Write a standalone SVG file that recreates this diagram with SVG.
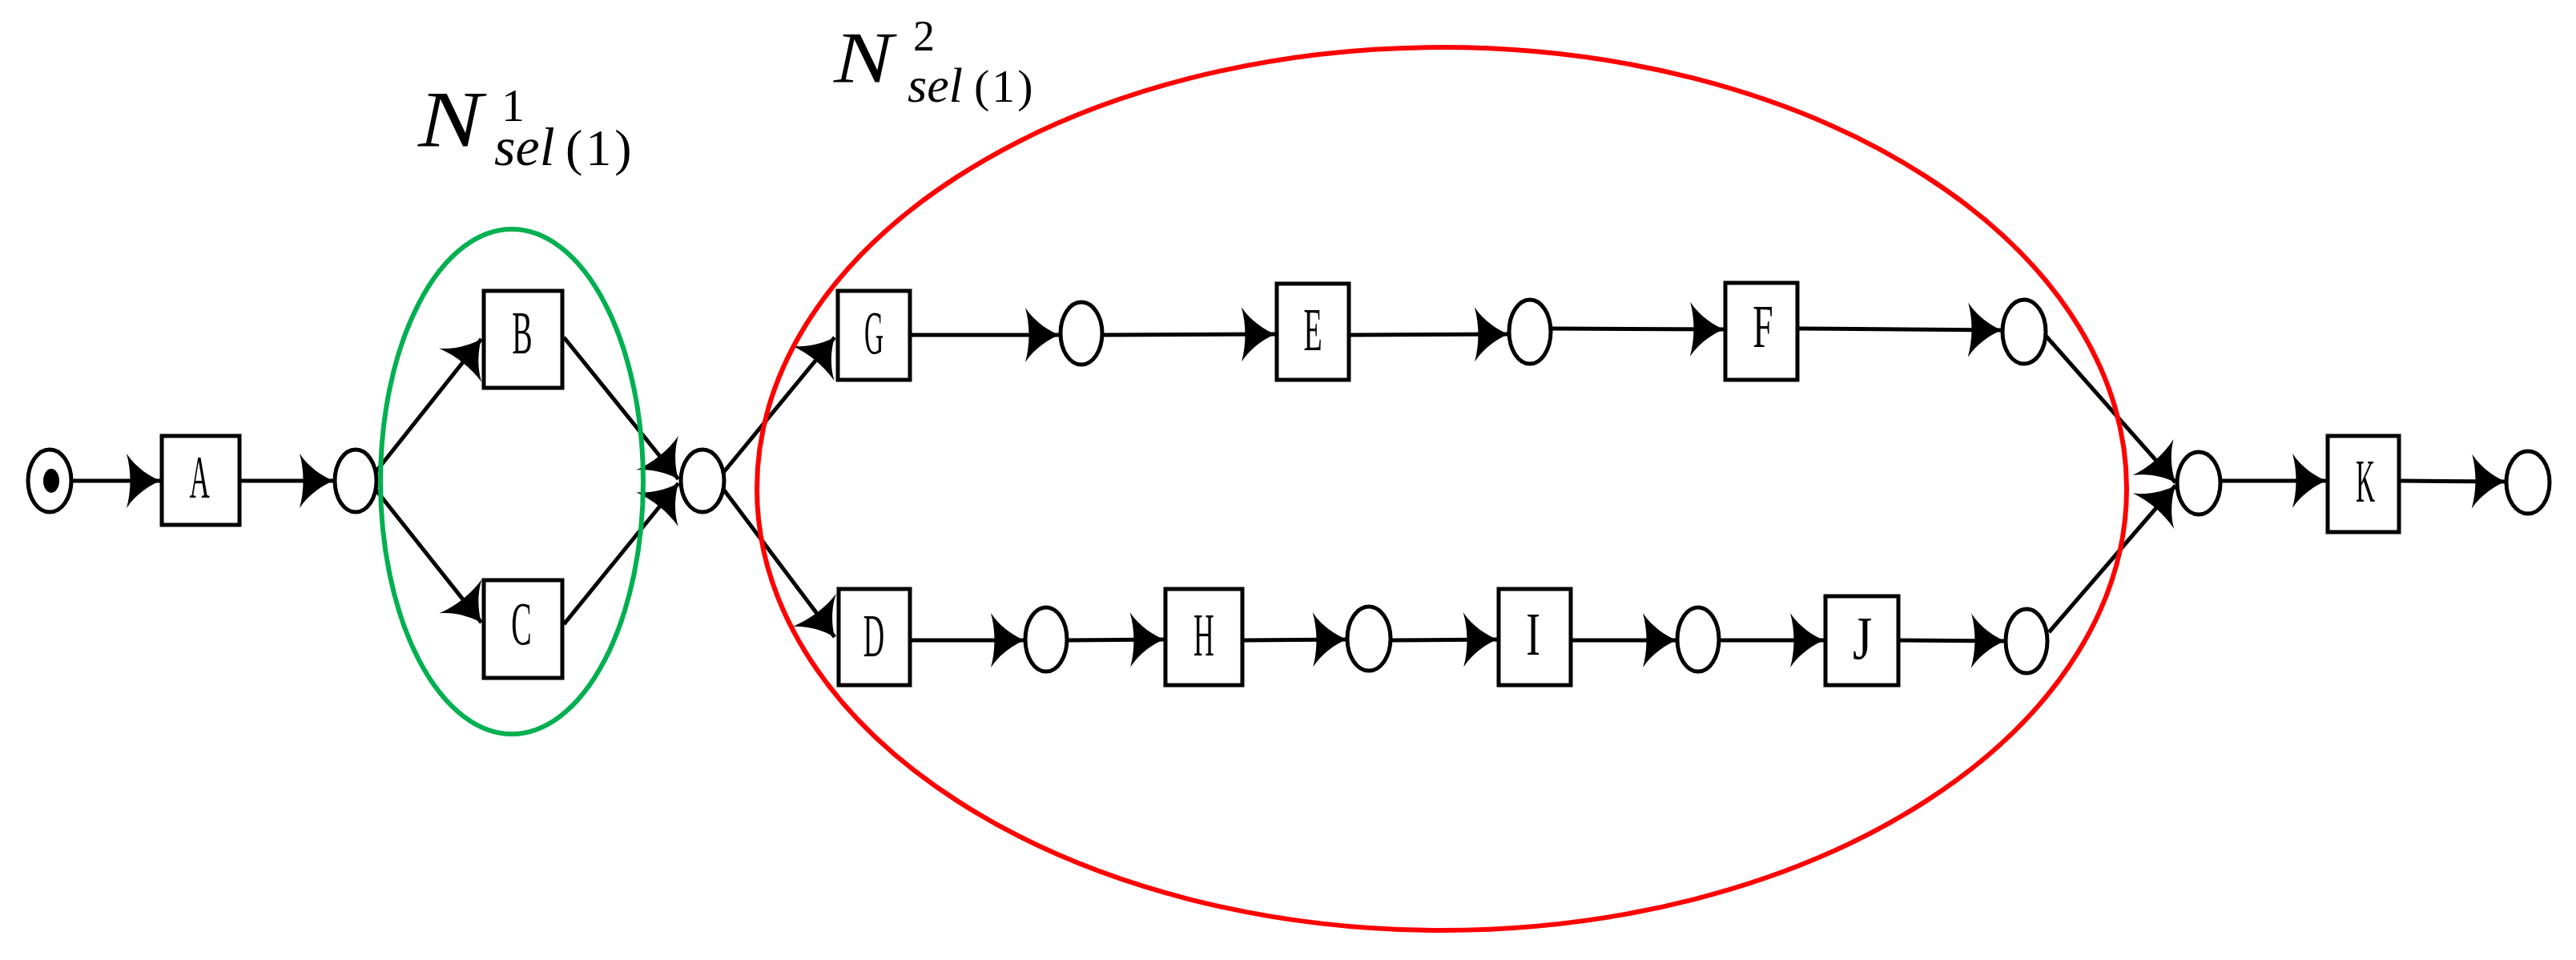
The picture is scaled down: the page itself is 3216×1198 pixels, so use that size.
<svg xmlns="http://www.w3.org/2000/svg" width="3216" height="1198" viewBox="0 0 3216 1198">
<style>
.bg{fill:#ffffff}
.box{fill:#ffffff;stroke:#000;stroke-width:5}
.pl{fill:#ffffff;stroke:#000;stroke-width:5}
.c{stroke:#000;stroke-width:5;fill:none;marker-end:url(#arr)}
.lbl{font-family:"Liberation Serif","DejaVu Serif","Times New Roman",serif;font-size:76px;fill:#000;text-anchor:middle}
.m{font-family:"Liberation Serif","DejaVu Serif","Times New Roman",serif;fill:#000}
.it{font-style:italic}
.up{font-style:normal}
</style>
<defs>
<marker id="arr" markerUnits="userSpaceOnUse" viewBox="-46 -36 48 72" markerWidth="48" markerHeight="72" refX="0" refY="0" orient="auto" overflow="visible">
<path d="M0,0 C-12,-5 -30,-16 -42,-34 C-36,-12 -36,12 -42,34 C-30,16 -12,5 0,0 Z" fill="#000"/>
</marker>
</defs>
<rect class="bg" x="0" y="0" width="3216" height="1198"/>

<g id="p-start"><ellipse class="pl" cx="62" cy="600" rx="27" ry="39"/><ellipse cx="64" cy="600" rx="10" ry="15" fill="#000"/></g>
<g id="t-A"><rect class="box" x="202" y="544" width="97" height="111"/><text class="lbl" transform="translate(249,621) scale(0.46,1)">A</text></g>
<g id="p1"><ellipse class="pl" cx="444" cy="600" rx="26" ry="39"/></g>
<g id="t-B"><rect class="box" x="604" y="363" width="98" height="121"/><text class="lbl" transform="translate(652,441) scale(0.5,1)">B</text></g>
<g id="t-C"><rect class="box" x="604" y="724" width="98" height="122"/><text class="lbl" transform="translate(651,804) scale(0.5,1)">C</text></g>
<g id="p2"><ellipse class="pl" cx="877" cy="600" rx="27" ry="39"/></g>
<g id="t-G"><rect class="box" x="1046" y="363" width="90" height="111"/><text class="lbl" transform="translate(1091,441) scale(0.44,1)">G</text></g>
<g id="p3"><ellipse class="pl" cx="1350" cy="416" rx="26" ry="39"/></g>
<g id="t-E"><rect class="box" x="1594" y="354" width="90" height="120"/><text class="lbl" transform="translate(1639,437) scale(0.5,1)">E</text></g>
<g id="p4"><ellipse class="pl" cx="1910" cy="414" rx="26" ry="40"/></g>
<g id="t-F"><rect class="box" x="2154" y="353" width="90" height="121"/><text class="lbl" transform="translate(2201,433) scale(0.6,1)">F</text></g>
<g id="p5"><ellipse class="pl" cx="2527" cy="414" rx="27" ry="40"/></g>
<g id="t-D"><rect class="box" x="1047" y="735" width="89" height="120"/><text class="lbl" transform="translate(1091,819) scale(0.48,1)">D</text></g>
<g id="p6"><ellipse class="pl" cx="1306" cy="798" rx="26" ry="40"/></g>
<g id="t-H"><rect class="box" x="1455" y="735" width="96" height="120"/><text class="lbl" transform="translate(1503,818) scale(0.47,1)">H</text></g>
<g id="p7"><ellipse class="pl" cx="1709" cy="797" rx="27" ry="40"/></g>
<g id="t-I"><rect class="box" x="1871" y="735" width="90" height="120"/><text class="lbl" transform="translate(1914,817) scale(0.7,1)">I</text></g>
<g id="p8"><ellipse class="pl" cx="2120" cy="798" rx="26" ry="40"/></g>
<g id="t-J"><rect class="box" x="2279" y="744" width="91" height="111"/><text class="lbl" transform="translate(2325,822) scale(0.82,1)">J</text></g>
<g id="p9"><ellipse class="pl" cx="2530" cy="800" rx="26" ry="40"/></g>
<g id="p10"><ellipse class="pl" cx="2745" cy="603" rx="27" ry="39"/></g>
<g id="t-K"><rect class="box" x="2906" y="544" width="89" height="120"/><text class="lbl" transform="translate(2953,626) scale(0.44,1)">K</text></g>
<g id="p-end"><ellipse class="pl" cx="3156" cy="602" rx="27" ry="39"/></g>

<g id="connectors">
<line class="c" x1="91" y1="600" x2="200" y2="600"/>
<line class="c" x1="301" y1="600" x2="416" y2="600"/>
<line class="c" x1="469" y1="589" x2="601" y2="423"/>
<line class="c" x1="469" y1="611" x2="601" y2="777"/>
<line class="c" x1="704" y1="421" x2="847" y2="598"/>
<line class="c" x1="704" y1="779" x2="847" y2="603"/>
<line class="c" x1="902" y1="591" x2="1042" y2="421"/>
<line class="c" x1="902" y1="609" x2="1042" y2="795"/>
<line class="c" x1="1138" y1="418" x2="1322" y2="418"/>
<line class="c" x1="1377" y1="418" x2="1592" y2="417"/>
<line class="c" x1="1686" y1="418" x2="1883" y2="417"/>
<line class="c" x1="1937" y1="410" x2="2152" y2="411"/>
<line class="c" x1="2246" y1="410" x2="2499" y2="412"/>
<line class="c" x1="2554" y1="419" x2="2716" y2="602"/>
<line class="c" x1="1138" y1="799" x2="1279" y2="799"/>
<line class="c" x1="1333" y1="799" x2="1453" y2="798"/>
<line class="c" x1="1553" y1="799" x2="1681" y2="798"/>
<line class="c" x1="1737" y1="799" x2="1869" y2="798"/>
<line class="c" x1="1963" y1="799" x2="2093" y2="799"/>
<line class="c" x1="2147" y1="799" x2="2277" y2="799"/>
<line class="c" x1="2372" y1="799" x2="2503" y2="800"/>
<line class="c" x1="2558" y1="789" x2="2716" y2="606"/>
<line class="c" x1="2773" y1="600" x2="2904" y2="600"/>
<line class="c" x1="2997" y1="600" x2="3128" y2="601"/>
</g>

<g id="region-1">
<ellipse cx="639" cy="601" rx="164" ry="315" fill="none" stroke="#00B050" stroke-width="6"/>
</g>
<g id="region-2">
<ellipse cx="1800" cy="610" rx="855" ry="551" fill="none" stroke="#FF0000" stroke-width="6"/>
</g>

<g id="label-n1">
<text class="m it" font-size="100" transform="translate(522,182) scale(1.2,1)">N</text>
<text class="m"><tspan class="up" x="626" y="151" font-size="58">1</tspan><tspan class="it" x="617" y="206" font-size="68">sel</tspan><tspan class="up" x="706" y="206" font-size="64" letter-spacing="4">(1)</tspan></text>
</g>
<g id="label-n2">
<text class="m it" font-size="92" transform="translate(1041,103) scale(1.2,1)">N</text>
<text class="m"><tspan class="up" x="1140" y="63" font-size="54">2</tspan><tspan class="it" x="1133" y="127" font-size="62">sel</tspan><tspan class="up" x="1216" y="127" font-size="58" letter-spacing="3">(1)</tspan></text>
</g>
</svg>
